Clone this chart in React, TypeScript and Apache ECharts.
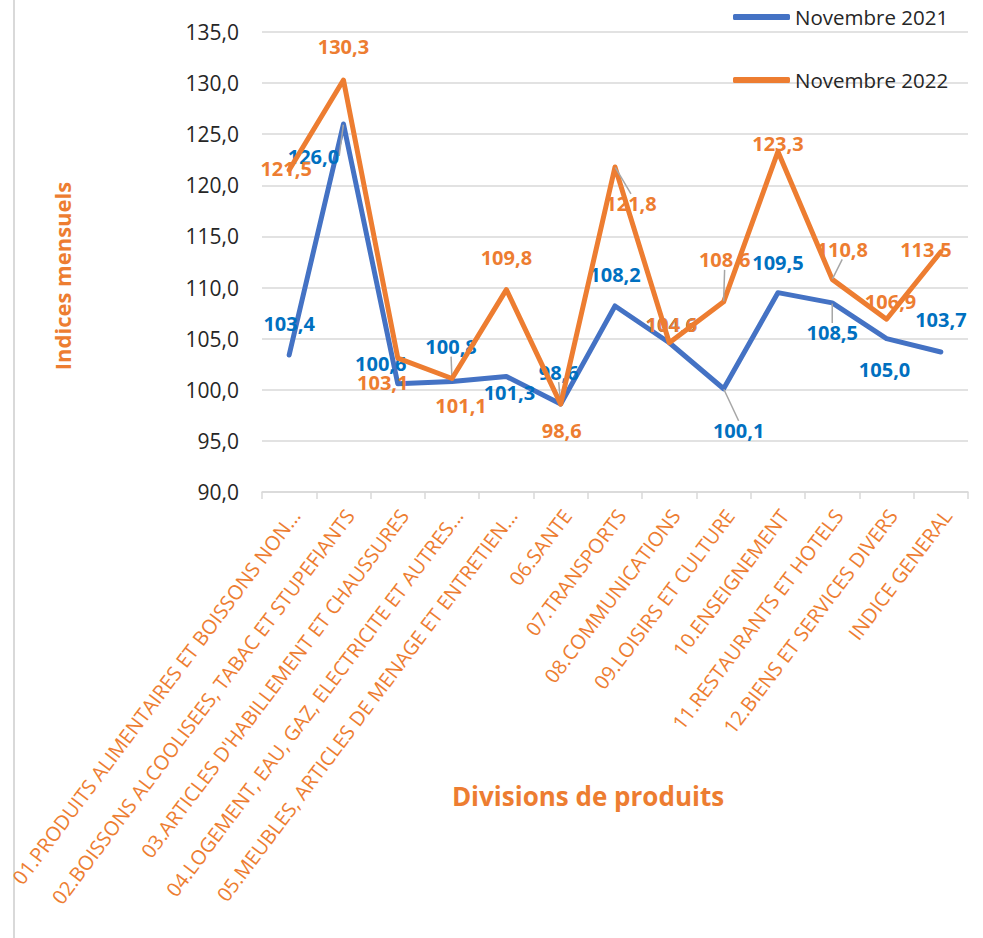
import React, { useEffect, useRef } from "react";
import * as echarts from "echarts";

const categories = [
  "01.PRODUITS ALIMENTAIRES ET BOISSONS NON...",
  "02.BOISSONS ALCOOLISEES, TABAC ET STUPEFIANTS",
  "03.ARTICLES D'HABILLEMENT ET CHAUSSURES",
  "04.LOGEMENT, EAU, GAZ, ELECTRICITE ET AUTRES...",
  "05.MEUBLES, ARTICLES DE MENAGE ET ENTRETIEN...",
  "06.SANTE",
  "07.TRANSPORTS",
  "08.COMMUNICATIONS",
  "09.LOISIRS ET CULTURE",
  "10.ENSEIGNEMENT",
  "11.RESTAURANTS ET HOTELS",
  "12.BIENS ET SERVICES DIVERS",
  "INDICE GENERAL",
];

const nov2021 = [103.4, 126.0, 100.6, 100.8, 101.3, 98.6, 108.2, 104.6, 100.1, 109.5, 108.5, 105.0, 103.7];
const nov2022 = [121.5, 130.3, 103.1, 101.1, 109.8, 98.6, 121.8, 104.6, 108.6, 123.3, 110.8, 106.9, 113.5];

const seriesNames = ["Novembre 2021", "Novembre 2022"];

// label placement (pixel offsets from the point) and leader-line flags
const offsets2021: number[][] = [
  [0, -32], [-30, 32], [-17, -20], [-1, -35], [3, 16], [-2, -32], [0, -31],
  [2, -18], [15, 42], [0, -30], [0, 30], [-2, 31], [0, -32],
];
const leaders2021 = [false, true, false, true, false, true, false, false, true, false, true, false, false];
const offsets2022: number[][] = [
  [-3, -2], [0, -34], [-15, 24], [9, 27], [0, -32], [1, 26], [16, 37],
  [2, -18], [1, -42], [0, -8], [10, -30], [4, -18], [-15, -2],
];
const leaders2022 = [false, false, false, false, false, false, true, false, true, false, true, false, false];

const BLUE = "#4472C4";
const BLUE_TXT = "#0070C0";
const ORANGE = "#ED7D31";
const FONT = "'Open Sans', 'Noto Sans', sans-serif";

const fmt = (v: number) => v.toFixed(1).replace(".", ",");

function buildData(values: number[], offs: number[][], leaders: boolean[]) {
  return values.map((v, i) => ({
    value: v,
    label: { offset: offs[i] },
    labelLine: { show: leaders[i] },
  }));
}

export default function App() {
  const ref = useRef<HTMLDivElement>(null);

  useEffect(() => {
    if (!ref.current) return;
    const chart = echarts.init(ref.current, undefined, { renderer: "svg" });

    const makeSeries = (name: string, values: number[], offs: number[][], leaders: boolean[], lineColor: string, txtColor: string, z: number) => ({
      name,
      type: "line",
      z,
      data: buildData(values, offs, leaders),
      symbol: "circle",
      symbolSize: 1,
      showSymbol: true,
      itemStyle: { color: lineColor, borderWidth: 0 },
      lineStyle: { color: lineColor, width: 5, cap: "round", join: "round" },
      emphasis: { disabled: true },
      label: {
        show: true,
        position: "inside",
        align: "center",
        verticalAlign: "middle",
        fontFamily: FONT,
        fontSize: 20,
        fontWeight: "bold",
        color: txtColor,
        textBorderWidth: 0,
        formatter: (p: any) => fmt(p.value),
      },
      labelLine: {
        show: false,
        lineStyle: { color: "#A6A6A6", width: 1.5 },
      },
    });

    chart.setOption({
      animation: false,
      backgroundColor: "#ffffff",
      color: [BLUE, ORANGE],
      grid: { left: 262, right: 15, top: 32, bottom: 446, containLabel: false, outerBoundsMode: "none" },
      legend: {
        orient: "vertical",
        left: 733,
        top: 5,
        padding: 0,
        itemWidth: 57,
        itemHeight: 6,
        itemGap: 39,
        icon: "roundRect",
        data: seriesNames,
        textStyle: { fontFamily: FONT, fontSize: 20.5, color: "#262626", lineHeight: 24 },
      },
      xAxis: {
        type: "category",
        data: categories,
        boundaryGap: true,
        axisLine: { show: true, lineStyle: { color: "#D9D9D9", width: 1.5 } },
        axisTick: { show: true, length: 7, alignWithLabel: false, lineStyle: { color: "#D9D9D9", width: 1.5 } },
        axisLabel: {
          interval: 0,
          rotate: 53,
          margin: 15,
          align: "right",
          verticalAlign: "top",
          lineHeight: 16,
          padding: 0,
          fontFamily: FONT,
          fontSize: 20,
          color: ORANGE,
        },
        splitLine: { show: false },
        name: "Divisions de produits",
        nameLocation: "middle",
        nameGap: 291,
        nameMoveOverlap: false,
        nameTextStyle: {
          fontFamily: FONT,
          fontSize: 26,
          fontWeight: "bold",
          color: ORANGE,
          padding: [0, 54, 0, 0],
        },
      },
      yAxis: {
        type: "value",
        min: 90,
        max: 135,
        interval: 5,
        axisLine: { show: false },
        axisTick: { show: false },
        splitLine: { show: true, lineStyle: { color: "#D9D9D9", width: 1.5 } },
        axisLabel: {
          margin: 23,
          fontFamily: FONT,
          fontSize: 21,
          color: "#262626",
          formatter: (v: number) => fmt(v),
        },
        name: "Indices mensuels",
        nameLocation: "middle",
        nameRotate: 90,
        nameGap: 189,
        nameMoveOverlap: false,
        nameTextStyle: {
          fontFamily: FONT,
          fontSize: 22,
          fontWeight: "bold",
          color: ORANGE,
          padding: [0, 28, 0, 0],
        },
      },
      graphic: [
        {
          type: "line",
          shape: { x1: 14, y1: 0, x2: 14, y2: 938 },
          style: { stroke: "#D9D9D9", lineWidth: 2 },
          silent: true,
        },
      ],
      series: [
        makeSeries(seriesNames[0], nov2021, offsets2021, leaders2021, BLUE, BLUE_TXT, 2),
        makeSeries(seriesNames[1], nov2022, offsets2022, leaders2022, ORANGE, ORANGE, 3),
      ],
    });

    return () => chart.dispose();
  }, []);

  return (
    <div
      ref={ref}
      style={{ position: "fixed", left: 0, top: 0, width: 983, height: 938 }}
    />
  );
}
